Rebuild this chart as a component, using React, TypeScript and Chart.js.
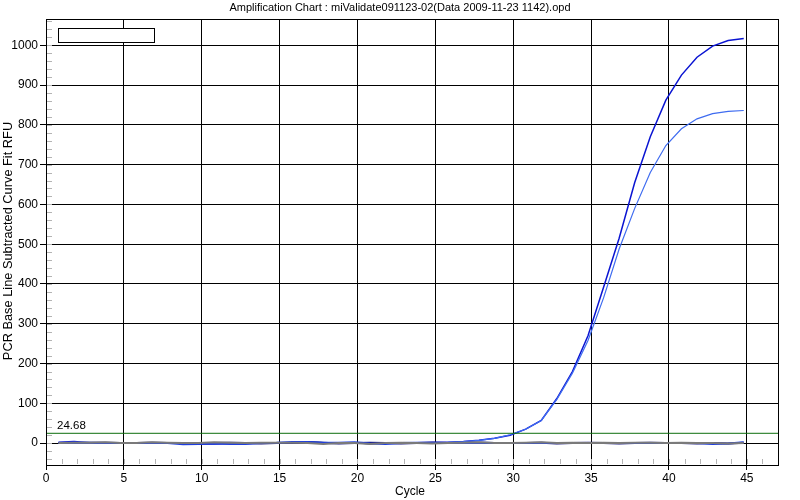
import React, { useEffect, useRef } from "react";
import { Chart, registerables } from "chart.js";

Chart.register(...registerables);

const TITLE = "Amplification Chart : miValidate091123-02(Data 2009-11-23 1142).opd";
const X_TITLE = "Cycle";
const Y_TITLE = "PCR Base Line Subtracted Curve Fit RFU";

const cycles = [
  0.8, 1.8, 2.8, 3.8, 4.8, 5.8, 6.8, 7.8, 8.8, 9.8,
  10.8, 11.8, 12.8, 13.8, 14.8, 15.8, 16.8, 17.8, 18.8, 19.8,
  20.8, 21.8, 22.8, 23.8, 24.8, 25.8, 26.8, 27.8, 28.8, 29.8,
  30.8, 31.8, 32.8, 33.8, 34.8, 35.8, 36.8, 37.8, 38.8, 39.8,
  40.8, 41.8, 42.8, 43.8, 44.8,
];

const wellA = [
  2, 4, 1, 1, 0, 0, 0, 0, 0, -2,
  -2, -1, -1, 0, 0, 1, 2, 1, 0, 0,
  -1, 0, 1, 1, 2, 2, 4, 7, 12, 20,
  35, 57, 112, 180, 270, 392, 515, 655, 770, 862,
  925, 970, 998, 1012, 1017,
];

const wellB = [
  1, 2, 2, 1, 0, 0, 0, 0, 0, -1,
  -1, 0, -1, 0, 1, 1, 3, 2, 1, 0,
  0, -1, 0, 1, 1, 2, 4, 7, 12, 21,
  35, 57, 110, 176, 258, 365, 488, 590, 680, 748,
  790, 815, 828, 834, 836,
];

const noiseNavy = [
  0, 0, 1, 1, 0, 0, 1, 0, 0, -1,
  0, 1, 0, -1, 0, 0, 2, 1, -1, 0,
  1, 0, -1, 0, 1, 0, 0, 1, 0, 0,
  0, 1, -1, 0, 1, 0, -1, 0, 1, 0,
  0, -1, 0, -1, 1,
];

const noiseGray = [
  0, 1, 1, 2, 0, 0, 2, 1, 0, 0,
  2, 1, 0, 1, 1, 1, 0, -2, 0, 0,
  -2, 0, 1, 0, -1, 0, 1, 2, 0, 0,
  1, 2, 0, 1, 0, 1, 0, 1, 1, 0,
  1, 0, 0, -1, 0,
];

const noiseBlue = [
  0, 0, 0, 0, 0, 0, 0, 0, -3, -2,
  -1, -2, -2, 0, 1, 3, 3, 0, 1, 2,
  -1, -2, 0, 1, 0, 0, 0, 1, 0, 0,
  0, 0, 0, 0, 0, 0, 0, 0, 0, 0,
  0, 0, -2, -1, 2,
];

const threshold = 24.68;
const xTicks = [0, 5, 10, 15, 20, 25, 30, 35, 40, 45];
const yTicks = [0, 100, 200, 300, 400, 500, 600, 700, 800, 900, 1000];
const X_MIN = 0;
const X_MAX = 47;
const Y_MIN = -55;
const Y_MAX = 1066;

const FONT = "'Liberation Sans', Arial, sans-serif";

const toPts = (vals: number[]) => vals.map((v, i) => ({ x: cycles[i], y: v }));

const decorPlugin = {
  id: "decor",
  beforeDatasetsDraw(chart: any) {
    const { ctx, chartArea: a, scales } = chart;
    const xs = scales.x;
    const ys = scales.y;
    ctx.save();
    ctx.strokeStyle = "#b4b4b4";
    ctx.lineWidth = 1;
    for (let v = -40; v <= Y_MAX; v += 20) {
      const py = Math.round(ys.getPixelForValue(v)) + 0.5;
      ctx.beginPath();
      ctx.moveTo(a.left, py);
      ctx.lineTo(a.left + 6, py);
      ctx.stroke();
    }
    for (let c = 1; c < X_MAX; c += 1) {
      const px = Math.round(xs.getPixelForValue(c)) + 0.5;
      ctx.beginPath();
      ctx.moveTo(px, a.bottom - 6);
      ctx.lineTo(px, a.bottom - 1);
      ctx.stroke();
    }
    ctx.restore();
  },
  afterDraw(chart: any) {
    const { ctx, chartArea: a, scales } = chart;
    const ys = scales.y;
    ctx.save();
    ctx.strokeStyle = "#000";
    ctx.lineWidth = 1;
    ctx.strokeRect(Math.round(a.left) + 0.5, Math.round(a.top) + 0.5, Math.round(a.right - a.left), Math.round(a.bottom - a.top));
    ctx.fillStyle = "#fff";
    ctx.fillRect(58.5, 28.5, 96, 14);
    ctx.strokeRect(58.5, 28.5, 96, 14);
    ctx.fillStyle = "#000";
    ctx.font = `11px ${FONT}`;
    ctx.textAlign = "center";
    ctx.textBaseline = "middle";
    ctx.fillText(TITLE, 400, 8);
    ctx.font = `12px ${FONT}`;
    ctx.fillText(X_TITLE, 410, 492);
    ctx.save();
    ctx.translate(8, 241);
    ctx.rotate(-Math.PI / 2);
    ctx.font = `12.8px ${FONT}`;
    ctx.fillText(Y_TITLE, 0, 0);
    ctx.restore();
    ctx.font = `11.5px ${FONT}`;
    ctx.textAlign = "left";
    ctx.textBaseline = "alphabetic";
    ctx.fillText(threshold.toFixed(2), 57, ys.getPixelForValue(threshold) - 4);
    ctx.restore();
  },
};

export default function App() {
  const ref = useRef<HTMLCanvasElement | null>(null);
  useEffect(() => {
    if (!ref.current) return;
    const chart = new Chart(ref.current, {
      type: "line",
      data: {
        datasets: [
          { label: "threshold", data: [{ x: X_MIN, y: threshold }, { x: X_MAX, y: threshold }], borderColor: "#0d6e0d", borderWidth: 1, pointRadius: 0 },
          { label: "noise gray", data: toPts(noiseGray), borderColor: "#7a7a7a", borderWidth: 2, pointRadius: 0 },
          { label: "noise blue", data: toPts(noiseBlue), borderColor: "#1e3ee0", borderWidth: 2, pointRadius: 0 },
          { label: "noise navy", data: toPts(noiseNavy), borderColor: "#10107a", borderWidth: 2, pointRadius: 0 },
          { label: "well B", data: toPts(wellB), borderColor: "#3f6cf0", borderWidth: 1.2, pointRadius: 0 },
          { label: "well A", data: toPts(wellA), borderColor: "#0a14d2", borderWidth: 1.5, pointRadius: 0 },
        ],
      },
      options: {
        responsive: false,
        animation: false,
        parsing: false as any,
        layout: { padding: { left: 0, right: 22, top: 19, bottom: 0 } },
        plugins: { legend: { display: false }, tooltip: { enabled: false }, title: { display: false } },
        elements: { line: { tension: 0 } },
        scales: {
          x: {
            type: "linear",
            min: X_MIN,
            max: X_MAX,
            afterBuildTicks: (s: any) => { s.ticks = xTicks.map((v) => ({ value: v })); },
            afterFit: (s: any) => { s.height = 35; },
            grid: { color: "#000", lineWidth: 1, drawTicks: true, tickLength: 5, tickColor: "#000" },
            border: { display: false },
            ticks: { color: "#000", font: { family: FONT, size: 12 }, padding: 1, maxRotation: 0, autoSkip: false, callback: (v: any) => String(v) },
          },
          y: {
            type: "linear",
            min: Y_MIN,
            max: Y_MAX,
            afterBuildTicks: (s: any) => { s.ticks = yTicks.map((v) => ({ value: v })); },
            afterFit: (s: any) => { s.width = 46; },
            grid: { color: "#000", lineWidth: 1, drawTicks: true, tickLength: 6, tickColor: "#000" },
            border: { display: false },
            ticks: { color: "#000", font: { family: FONT, size: 12 }, padding: 2, autoSkip: false, callback: (v: any) => String(v) },
          },
        },
      },
      plugins: [decorPlugin],
    } as any);
    return () => chart.destroy();
  }, []);
  return (
    <div style={{ position: "absolute", left: 0, top: 0, width: 800, height: 500, background: "#fff" }}>
      <canvas ref={ref} width={800} height={500} style={{ display: "block", width: 800, height: 500 }} />
    </div>
  );
}
